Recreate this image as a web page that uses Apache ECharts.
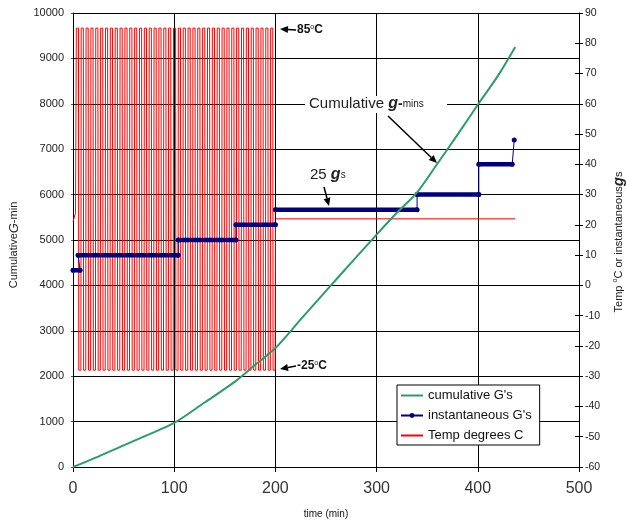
<!DOCTYPE html>
<html>
<head>
<meta charset="utf-8">
<script src="https://cdn.jsdelivr.net/npm/echarts@6/dist/echarts.min.js"></script>
<style>
  html, body { margin: 0; background: #fff; }
  #chart { width: 626px; height: 527px; }
</style>
</head>
<body>
<div id="chart"></div>
<script>
// 累计 g-min (左轴)
const cumTime = [0, 25, 50, 75, 100, 130, 160, 180, 200, 225, 250, 275, 300, 320, 340, 360, 380, 400, 420, 437];
const cumValue = [0, 230, 475, 720, 970, 1420, 1880, 2250, 2620, 3250, 3880, 4500, 5120, 5600, 6050, 6680, 7320, 7980, 8620, 9250];

// 瞬时 g 台阶 (右轴)
const instStart = [0, 5, 104, 161, 200, 340, 401];
const instEnd = [7, 104, 161, 200, 340, 401, 434];
const instLevel = [5, 10, 15, 20, 25, 30, 40];
const instLast = [436, 48];

// 温度循环 (右轴)
const tempBegin = [[0, 21], [2.5, 24]];
const tempCycleStart = [3, 7.8, 12.6, 17.4, 22.2, 27, 31.8, 36.6, 41.4, 46.2, 51, 55.8, 60.6, 65.4,
  70.2, 75, 79.8, 84.6, 89.4, 94.2, 99, 103.8, 108.6, 113.4, 118.2, 123, 127.8, 132.6, 137.4,
  142.2, 147, 151.8, 156.6, 161.4, 166.2, 171, 175.8, 180.6, 185.4, 190.2, 195];
const tempCycleEnd = 199.7;
const tempHigh = 85;
const tempLow = -28;
const tempAfter = [[200, 22], [437, 22]];

// x 轴刻度
const xTicks = [0, 100, 200, 300, 400, 500];

const cumData = cumTime.map((t, i) => [t, cumValue[i]]);

// 细的台阶线
const instStep = [];
instStart.forEach((s, i) => {
  instStep.push([s, instLevel[i]], [instEnd[i], instLevel[i]]);
});
instStep.push(instLast);
// 粗的水平段
const instThick = [];
instStart.forEach((s, i) => {
  instThick.push([s, instLevel[i]], [instEnd[i], instLevel[i]], ['-', '-']);
});

const tempData = tempBegin.slice();
tempCycleStart.forEach((s, i) => {
  const next = i < tempCycleStart.length - 1 ? tempCycleStart[i + 1] : tempCycleEnd;
  tempData.push([s + 0.3, tempHigh], [s + 2.4, tempHigh], [s + 2.7, tempLow], [next, tempLow]);
});
tempAfter.forEach(p => tempData.push(p));

function arrow(x1, y1, x2, y2) {
  const a = Math.atan2(y2 - y1, x2 - x1);
  const L = 8, W = 3.5;
  const bx = x2 - L * Math.cos(a), by = y2 - L * Math.sin(a);
  return [
    { type: 'line', z: 100, shape: { x1: x1, y1: y1, x2: bx, y2: by }, style: { stroke: '#000', lineWidth: 1.5 } },
    { type: 'polygon', z: 100, shape: { points: [[x2, y2], [bx - W * Math.sin(a), by + W * Math.cos(a)], [bx + W * Math.sin(a), by - W * Math.cos(a)]] }, style: { fill: '#000' } }
  ];
}

const chart = echarts.init(document.getElementById('chart'));
const font = 'Liberation Sans, Arial, sans-serif';
const plain = v => String(v);

chart.setOption({
  animation: false,
  textStyle: { fontFamily: font },
  grid: { left: 73, right: 47, top: 13, bottom: 60 },
  legend: {
    orient: 'vertical',
    left: 397, top: 385,
    data: [
      { name: 'cumulative G\'s', itemStyle: { opacity: 0 } },
      { name: 'instantaneous G\'s' },
      { name: 'Temp degrees C', itemStyle: { opacity: 0 } }
    ],
    backgroundColor: '#fff',
    borderColor: '#000', borderWidth: 1, borderRadius: 0,
    padding: [3, 8, 2, 3],
    itemGap: 5, itemWidth: 22, itemHeight: 6,
    textStyle: { fontSize: 13, color: '#111', fontFamily: font, lineHeight: 15 }
  },
  xAxis: {
    type: 'value', min: 0, max: 500, interval: 100,
    name: 'time (min)', nameLocation: 'middle', nameGap: 42,
    nameTextStyle: { fontSize: 10, color: '#111' },
    axisLine: { lineStyle: { color: '#000' } },
    axisTick: { length: 5, lineStyle: { color: '#000' } },
    axisLabel: { fontSize: 16, color: '#333', margin: 14, customValues: xTicks, formatter: plain },
    splitLine: { lineStyle: { color: '#000', width: 1 } }
  },
  yAxis: [
    {
      type: 'value', min: 0, max: 10000, interval: 1000,
      axisLine: { show: true, lineStyle: { color: '#000' } },
      axisTick: { show: true, length: 2, lineStyle: { color: '#555' } },
      axisLabel: { fontSize: 11, color: '#222', margin: 9, formatter: plain },
      splitLine: { lineStyle: { color: '#000', width: 1 } }
    },
    {
      type: 'value', min: -60, max: 90, interval: 10, position: 'right',
      axisLine: { show: true, lineStyle: { color: '#000' } },
      axisTick: { show: true, length: 4, lineStyle: { color: '#000' } },
      axisLabel: { fontSize: 10.5, color: '#222', margin: 6, formatter: plain },
      splitLine: { show: false }
    },
    {
      type: 'value', min: -60, max: 90, interval: 10, position: 'right',
      axisLine: { show: false },
      axisTick: { show: true, inside: true, length: 4, lineStyle: { color: '#000' } },
      axisLabel: { show: false },
      splitLine: { show: false }
    }
  ],
  series: [
    {
      name: 'Temp degrees C', type: 'line', yAxisIndex: 1, data: tempData,
      symbol: 'none', z: 2,
      lineStyle: { color: '#ff0000', width: 1 }, itemStyle: { color: '#ff0000' }
    },
    {
      name: 'instantaneous G\'s', type: 'line', yAxisIndex: 1, data: instStep,
      symbol: 'circle', symbolSize: 5, showSymbol: true, z: 3,
      lineStyle: { color: '#00007f', width: 1 }, itemStyle: { color: '#00007f' }
    },
    {
      name: 'instThick', type: 'line', yAxisIndex: 1, data: instThick,
      symbol: 'none', z: 3, connectNulls: false,
      lineStyle: { color: '#00007f', width: 4.5, cap: 'round' }
    },
    {
      name: 'cumulative G\'s', type: 'line', yAxisIndex: 0, data: cumData,
      symbol: 'none', smooth: 0.3, z: 4,
      lineStyle: { color: '#2a9d6a', width: 2 }, itemStyle: { color: '#2a9d6a' }
    }
  ],
  graphic: [
    // 左轴名称
    {
      type: 'text', x: 14, y: 245, rotation: Math.PI / 2, z: 100,
      style: {
        text: 'Cumulative{g|G}-min', fill: '#222', font: '11px ' + font,
        textAlign: 'center', textVerticalAlign: 'middle',
        rich: { g: { fontSize: 13, fontStyle: 'italic', fill: '#222' } }
      }
    },
    // 右轴名称
    {
      type: 'text', x: 619, y: 242, rotation: Math.PI / 2, z: 100,
      style: {
        text: 'Temp {o|o}C or instantaneous{g|g}s', fill: '#222', font: '11px ' + font,
        textAlign: 'center', textVerticalAlign: 'middle',
        rich: {
          o: { fontSize: 7, verticalAlign: 'top', fill: '#222' },
          g: { fontSize: 15, fontStyle: 'italic', fontWeight: 'bold', fill: '#222' }
        }
      }
    },
    // 注释
    { type: 'rect', z: 99, shape: { x: 305, y: 96, width: 142, height: 17 }, style: { fill: '#fff' } },
    {
      type: 'text', x: 309, y: 104, z: 100,
      style: {
        text: 'Cumulative {g|g}{m|-}{s|mins}', fill: '#222', font: '15px ' + font,
        textVerticalAlign: 'middle',
        rich: {
          g: { fontSize: 16, fontStyle: 'italic', fontWeight: 'bold', fill: '#222' },
          m: { fontSize: 14, fontWeight: 'bold', fill: '#222' },
          s: { fontSize: 10, fill: '#222' }
        }
      }
    },
    {
      type: 'text', x: 310, y: 175, z: 100,
      style: {
        text: '25 {g|g}{s|s}', fill: '#222', font: '15px ' + font,
        textVerticalAlign: 'middle',
        rich: {
          g: { fontSize: 16, fontStyle: 'italic', fontWeight: 'bold', fill: '#222' },
          s: { fontSize: 10, fill: '#222' }
        }
      }
    },
    {
      type: 'text', x: 297, y: 30, z: 100,
      style: {
        text: '85{o|o}C', fill: '#111', font: 'bold 12px ' + font,
        textVerticalAlign: 'middle',
        rich: { o: { fontSize: 7, verticalAlign: 'top', fill: '#111' } }
      }
    },
    {
      type: 'text', x: 297, y: 366, z: 100,
      style: {
        text: '-25{o|o}C', fill: '#111', font: 'bold 12px ' + font,
        textVerticalAlign: 'middle',
        rich: { o: { fontSize: 7, verticalAlign: 'top', fill: '#111' } }
      }
    },
    ...arrow(296, 30, 280, 29),
    ...arrow(296, 366, 280, 369),
    ...arrow(388, 116, 437, 163),
    ...arrow(324, 187, 329, 206)
  ]
});
</script>
</body>
</html>
